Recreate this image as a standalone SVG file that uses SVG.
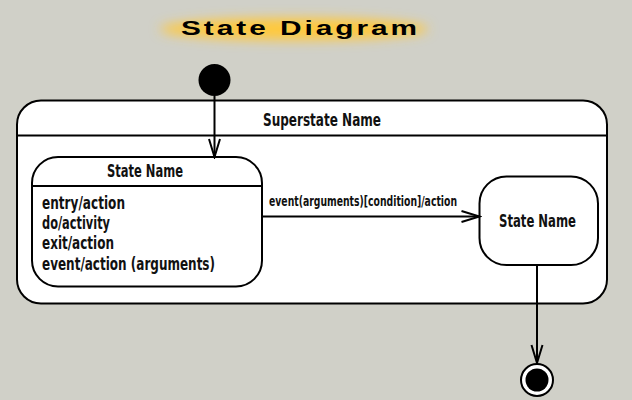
<svg xmlns="http://www.w3.org/2000/svg" width="632" height="400" viewBox="0 0 632 400">
<defs>
<filter id="glow" x="-30%" y="-100%" width="160%" height="300%">
<feGaussianBlur stdDeviation="6"/>
</filter>
<marker id="open" viewBox="-20 -7 22 14" markerWidth="22" markerHeight="14" refX="0" refY="0" orient="auto" markerUnits="userSpaceOnUse">
<path d="M-18,-5.5 L0,0 L-18,5.5" fill="none" stroke="#000" stroke-width="2"/>
</marker>
</defs>
<style>
.box{fill:#fff;stroke:#000;stroke-width:2}
.ln{stroke:#000;stroke-width:2;fill:none}
.t{font-family:"DejaVu Sans Condensed","DejaVu Sans",sans-serif;font-weight:bold;fill:#111}
.n{font-size:17.5px}
.b{font-size:17px}
.s{font-size:13.5px}
</style>
<rect width="632" height="400" fill="#d0d0c8"/>
<g id="title">
<ellipse cx="294" cy="29" rx="134" ry="11" fill="#ffc93c" filter="url(#glow)"/>
<text x="181" y="35" font-family="'Liberation Sans',Arial,sans-serif" font-weight="bold" font-size="20" letter-spacing="2" textLength="239" lengthAdjust="spacingAndGlyphs" fill="#000">State Diagram</text>
</g>
<g id="superstate">
<rect class="box" x="17" y="100.5" width="590" height="203" rx="24" ry="24"/>
<line class="ln" x1="17" y1="135.5" x2="607" y2="135.5"/>
<text class="t n" x="263" y="126" textLength="118" lengthAdjust="spacingAndGlyphs">Superstate Name</text>
</g>
<g id="initial">
<circle cx="214.5" cy="80" r="16" fill="#000"/>
</g>
<g id="state1">
<rect class="box" x="32" y="157" width="230" height="129.5" rx="26" ry="26"/>
<line class="ln" x1="32" y1="186" x2="262" y2="186"/>
<text class="t n" x="107" y="177" textLength="76" lengthAdjust="spacingAndGlyphs">State Name</text>
<text class="t b" x="42" y="209" textLength="83" lengthAdjust="spacingAndGlyphs">entry/action</text>
<text class="t b" x="42" y="229" textLength="68" lengthAdjust="spacingAndGlyphs">do/activity</text>
<text class="t b" x="42" y="249" textLength="72" lengthAdjust="spacingAndGlyphs">exit/action</text>
<text class="t b" x="42" y="270" textLength="173" lengthAdjust="spacingAndGlyphs">event/action (arguments)</text>
</g>
<g id="state2">
<rect class="box" x="479.5" y="176.5" width="118.5" height="88.5" rx="27" ry="27"/>
<text class="t n" x="499" y="227" textLength="77" lengthAdjust="spacingAndGlyphs">State Name</text>
</g>
<g id="final">
<circle cx="537" cy="380" r="16" fill="#fff" stroke="#000" stroke-width="2"/>
<circle cx="537" cy="380" r="11.5" fill="#000"/>
</g>
<g id="connectors">
<line class="ln" x1="214.5" y1="96" x2="214.5" y2="157" marker-end="url(#open)"/>
<line class="ln" x1="262" y1="216.5" x2="479.5" y2="216.5" marker-end="url(#open)"/>
<text class="t s" x="269" y="206" textLength="188" lengthAdjust="spacingAndGlyphs">event(arguments)[condition]/action</text>
<line class="ln" x1="537" y1="265" x2="537" y2="363" marker-end="url(#open)"/>
</g>
</svg>
